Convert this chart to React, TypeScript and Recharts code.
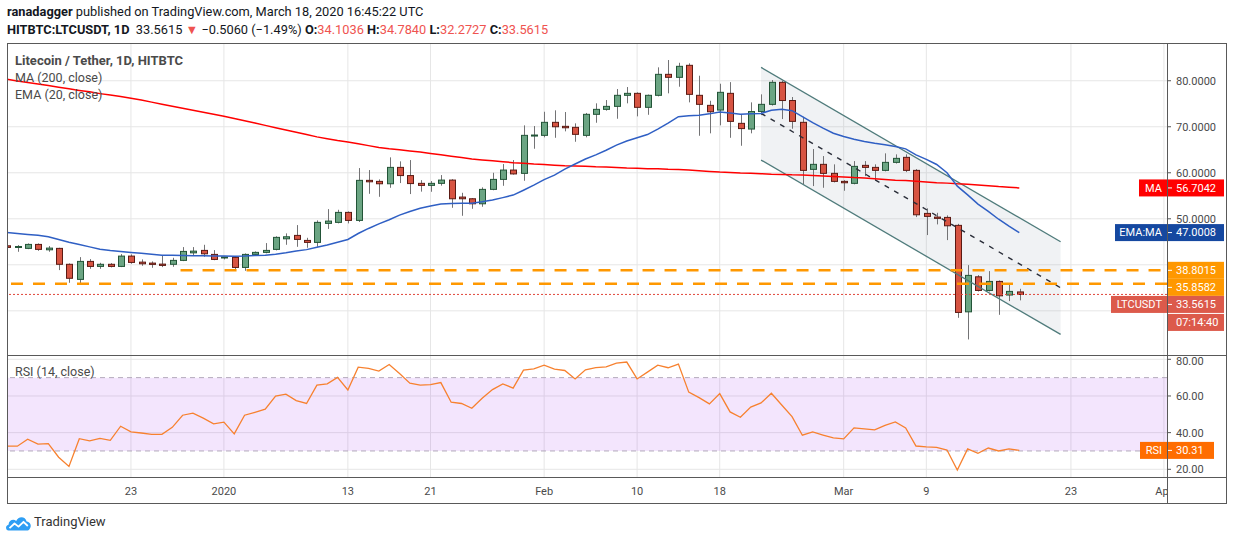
import React from 'react';
import {
  ComposedChart,
  Bar,
  Line,
  Area,
  XAxis,
  YAxis,
  CartesianGrid,
  ReferenceLine,
  ReferenceArea,
} from 'recharts';

// day 0 = Jan 1, 2020; first candle is Dec 11, 2019
const FIRST_DAY = -21;

const opens = [
  44.13, 43.95, 43.57, 44.43, 43.26, 43.57, 40.11, 36.83, 40.74, 39.65, 40.11, 39.65, 41.89, 40.58, 40.37, 40.15, 40.11, 40.96, 42.6, 43.13, 42.26,
  41.55, 41.61, 39.43, 42.26, 42.7, 43.35, 45.65, 46.39, 45.3, 44.87, 49.0, 49.22, 51.39, 49.65, 58.35, 58.13, 57.61, 61.17, 59.39, 57.7, 57.26,
  57.7, 58.41, 54.72, 54.35, 53.26, 56.39, 58.56, 60.59, 59.87, 67.98,
  68.13, 70.96, 70.09, 69.87, 68.13, 72.7, 73.78, 74.43, 76.83, 77.26, 74.22, 76.83, 81.39, 80.74, 83.35, 76.83, 74.65, 73.63, 77.26, 70.74,
  69.5, 73.3, 74.87, 79.65, 75.7, 70.96, 60.74, 61.83, 59.87,
  58.13, 57.7, 61.61, 61.17, 60.52, 62.26, 63.35, 60.52, 51.17, 50.37, 50.3, 48.57, 29.78, 37.39, 34.43, 36.39, 33.43, 34.1036,
];
const highs = [
  44.4, 44.28, 44.65, 44.65, 44.07, 43.7, 40.3, 41.67, 41.24, 40.43, 40.37, 42.33, 42.26, 41.17, 40.74, 42.11, 41.52, 43.85, 43.85, 44.35, 43.2,
  41.74, 41.8, 42.48, 42.91, 44.72, 46.2, 46.83, 48.63, 45.87, 49.65, 52.1, 51.96, 51.6, 61.02, 60.59, 58.56, 63.35, 62.48, 62.76, 58.4, 58.2,
  59.5, 58.6, 55.65, 54.5, 56.83, 60.0, 61.89, 62.76, 70.3, 70.15,
  73.26, 73.57, 73.2, 70.74, 73.0, 75.09, 75.8, 78.2, 78.63, 77.48, 77.0, 82.91, 84.5, 83.9, 83.78, 81.09, 75.65, 79.35, 79.7, 72.76,
  75.3, 77.04, 80.15, 80.0, 76.46, 72.17, 65.15, 63.63, 61.83,
  58.4, 62.54, 62.54, 61.83, 64.22, 64.0, 64.0, 60.8, 52.26, 51.3, 50.74, 48.9, 39.93, 37.76, 38.63, 36.6, 35.74, 34.784,
];
const lows = [
  43.5, 42.83, 43.4, 43.04, 42.83, 38.85, 36.09, 35.74, 39.13, 39.13, 39.43, 39.5, 40.22, 39.78, 39.35, 39.5, 39.57, 40.8, 42.04, 41.74, 41.0,
  41.17, 39.0, 38.7, 41.96, 42.5, 43.13, 44.35, 43.91, 43.7, 43.91, 47.8, 49.0, 49.0, 49.3, 55.43, 54.78, 56.74, 57.76, 55.37, 55.9, 55.87,
  57.2, 52.39, 50.65, 52.17, 52.61, 56.2, 57.17, 59.6, 58.26, 65.22,
  67.7, 67.6, 69.0, 66.74, 67.7, 70.87, 73.5, 71.74, 75.09, 72.26, 72.6, 76.6, 77.26, 78.7, 75.3, 68.04, 68.57, 70.3, 67.6, 65.87,
  68.57, 72.54, 74.6, 71.67, 69.57, 57.54, 57.11, 56.74, 57.9,
  56.09, 57.48, 59.28, 58.41, 60.3, 62.0, 60.15, 50.37, 46.46, 48.78, 45.37, 28.48, 23.78, 34.2, 34.2, 29.13, 32.11, 32.2727,
];
const closes = [
  43.78, 43.98, 44.43, 43.35, 43.63, 40.11, 37.07, 40.74, 39.65, 40.11, 39.65, 41.89, 40.52, 40.22, 40.09, 39.87, 40.96, 42.91, 42.97, 42.39, 41.17,
  41.7, 39.43, 42.26, 42.7, 43.13, 45.96, 46.09, 45.52, 44.87, 49.22, 49.5, 51.39, 49.65, 58.35, 58.04, 57.61, 61.17, 59.39, 57.65, 57.26, 57.7,
  58.41, 54.35, 54.35, 53.26, 56.39, 58.56, 60.59, 59.75, 68.13, 68.2,
  70.96, 70.0, 69.78, 68.35, 72.7, 73.78, 74.43, 76.83, 77.26, 74.22, 76.83, 81.39, 80.74, 83.13, 77.04, 74.87, 73.26, 77.48, 71.17, 69.6,
  73.3, 74.87, 79.65, 75.7, 71.17, 60.52, 61.83, 59.87, 58.13,
  57.83, 61.39, 61.17, 60.52, 62.26, 63.13, 60.52, 50.87, 50.52, 50.09, 48.48, 29.65, 37.7, 34.43, 36.39, 33.26, 34.22, 33.5615,
];
const ma200 = [
  80.3, 79.95, 79.6, 79.3, 78.95, 78.6, 78.25, 77.9, 77.6, 77.2, 76.9, 76.55, 76.2, 75.8, 75.35, 74.9, 74.45, 74.0, 73.6, 73.15, 72.7,
  72.3, 71.8, 71.3, 70.8, 70.3, 69.8, 69.3, 68.8, 68.3, 67.8, 67.4, 67.0, 66.7, 66.3, 65.9, 65.5, 65.2, 65.0, 64.75, 64.5, 64.2,
  63.9, 63.6, 63.3, 63.0, 62.8, 62.6, 62.4, 62.2, 62.05, 61.9,
  61.8, 61.65, 61.5, 61.45, 61.4, 61.3, 61.25, 61.15, 61.05, 61.0, 60.9, 60.85, 60.75, 60.7, 60.6, 60.45, 60.3, 60.15, 60.05, 59.95,
  59.9, 59.8, 59.7, 59.65, 59.55, 59.5, 59.4, 59.3, 59.2,
  59.1, 58.95, 58.85, 58.7, 58.55, 58.4, 58.3, 58.15, 58.0, 57.85, 57.75, 57.6, 57.5, 57.35, 57.2, 57.0, 56.85, 56.7042,
];
const ema20 = [
  47.0, 46.8, 46.6, 46.4, 46.1, 45.5, 44.9, 44.4, 43.9, 43.4, 43.1, 42.9, 42.7, 42.5, 42.3, 42.1, 42.05, 42.0, 41.95, 41.95, 41.9,
  41.9, 41.85, 41.9, 42.0, 42.1, 42.3, 42.6, 43.0, 43.3, 43.8, 44.3, 44.9, 45.5, 46.8, 47.9, 48.9, 49.8, 50.8, 51.6, 52.3, 52.8,
  53.2, 53.3, 53.35, 53.4, 53.7, 54.1, 54.6, 55.15, 56.2, 57.3,
  58.5, 59.5, 60.8, 61.9, 63.0, 63.9, 64.9, 66.0, 66.9, 67.6, 68.3, 69.5, 70.8, 72.2, 72.4, 72.5, 72.8, 73.2, 73.0, 72.7,
  72.8, 72.9, 73.6, 73.8, 73.5, 72.2, 70.9, 69.7, 68.6,
  67.9, 67.3, 66.8, 66.4, 66.1, 65.7, 65.2, 63.9, 62.9, 61.8, 60.0, 57.1, 55.2, 53.2, 51.6, 49.9, 48.4, 47.0008,
];
const rsi14 = [
  32.6, 32.6, 36.4, 33.7, 34.0, 26.6, 21.6, 36.7, 35.5, 36.9, 35.8, 43.5, 40.4, 39.8, 39.1, 39.1, 42.9, 49.5, 50.6, 47.9, 44.8,
  45.7, 39.3, 49.5, 51.1, 52.8, 59.9, 61.0, 57.5, 55.9, 65.9, 66.6, 70.1, 63.3, 75.7, 75.0, 73.6, 77.2, 72.2, 67.0, 65.9, 66.2,
  67.3, 56.6, 55.9, 53.3, 58.8, 63.5, 66.6, 64.3, 74.1, 74.8,
  76.8, 74.6, 73.9, 69.3, 74.3, 75.5, 75.9, 77.9, 78.5, 69.3, 73.0, 76.8, 75.4, 77.4, 62.1, 59.1, 55.7, 61.3, 51.3, 48.4,
  53.9, 56.2, 61.5, 55.1, 48.7, 38.6, 40.4, 38.7, 37.1,
  36.6, 42.6, 42.0, 41.5, 44.0, 45.8, 42.6, 32.7, 32.2, 32.0, 30.5, 19.6, 31.1, 28.7, 31.6, 30.0, 31.1, 30.31,
];

const tickDays = [-9, 0, 12, 20, 31, 40, 48, 60, 68, 82, 91];
const tickLabels = ['23', '2020', '13', '21', 'Feb', '10', '18', 'Mar', '9', '23', 'Apr'];

const priceTicks = [50, 60, 70, 80];
const priceGrid = [30, 40, 50, 60, 70, 80];
const rsiTicks = [20, 40, 60, 80];

const channelDays = [52, 81];
const channelUpper = [82.91, 45.0];
const channelMid = [72.91, 35.0];
const channelLower = [62.76, 24.87];

const resistance = 38.8015;
const support = 35.8582;
const lastPrice = 33.5615;
const lastMa = 56.7042;
const lastEma = 47.0008;
const lastRsi = 30.31;
const countdown = '07:14:40';

const candles = closes.map((close, i) => ({
  day: FIRST_DAY + i,
  open: opens[i],
  high: highs[i],
  low: lows[i],
  close,
  range: [lows[i], highs[i]],
  ma: ma200[i],
  ema: ema20[i],
  rsi: rsi14[i],
}));

const channel = channelDays.map((day, i) => ({ day, band: [channelLower[i], channelUpper[i]] }));

const X_DOMAIN: [number, number] = [-21, 91.3];
const RED = '#ef5350';
const TEXT = '#4a4a4a';

const Candle = (props: any) => {
  const { x, y, width, height, payload } = props;
  if (!payload) return null;
  const { open, close, high, low } = payload;
  const top = Math.min(y, y + height);
  const span = Math.abs(height);
  const k = high > low ? span / (high - low) : 0;
  const py = (v: number) => top + (high - v) * k;
  const cx = Math.round(x + width / 2) + 0.5;
  const up = close >= open;
  const b1 = py(Math.max(open, close));
  const b2 = py(Math.min(open, close));
  return (
    <g>
      <line x1={cx} x2={cx} y1={top} y2={top + span} stroke="#737375" strokeWidth={1} />
      <rect
        x={cx - 3}
        y={b1}
        width={6}
        height={Math.max(b2 - b1, 1)}
        fill={up ? '#6ba583' : '#d75442'}
        stroke={up ? '#225437' : '#5b1a13'}
        strokeWidth={1}
      />
    </g>
  );
};

type TagOpts = { name?: string; nameW?: number; valueW?: number; shift?: number; sub?: string };

const tag = (value: string, bg: string, opts: TagOpts = {}) => (props: any) => {
  const vb = props.viewBox || {};
  const ax = (vb.x || 0) + (vb.width || 0);
  const cy = (vb.y || 0) + (opts.shift || 0);
  const h = 17;
  const vw = opts.valueW || 56;
  return (
    <g>
      {opts.name && <rect x={ax - (opts.nameW || 30)} y={cy - h / 2} width={opts.nameW || 30} height={h} fill={bg} />}
      {opts.name && (
        <text x={ax - 5} y={cy} dy="0.35em" textAnchor="end" fill="#fff" fontSize={11}>
          {opts.name}
        </text>
      )}
      <rect x={ax + 1} y={cy - h / 2} width={vw} height={h} fill={bg} />
      <line x1={ax} x2={ax + 5} y1={cy} y2={cy} stroke="#fff" />
      <text x={ax + 9} y={cy} dy="0.35em" fill="#fff" fontSize={11}>
        {value}
      </text>
      {opts.sub && <rect x={ax + 1} y={cy + h / 2 + 1} width={vw} height={h} fill={bg} />}
      {opts.sub && (
        <text x={ax + 9} y={cy + h + 1} dy="0.35em" fill="#fff" fontSize={11}>
          {opts.sub}
        </text>
      )}
    </g>
  );
};

const DateTick = (props: any) => {
  const { x, y, payload } = props;
  const label = tickLabels[tickDays.indexOf(payload.value)];
  return (
    <g>
      <defs>
        <clipPath id={`tick-clip-${payload.value}`}>
          <rect x={0} y={0} width={1160} height={200} />
        </clipPath>
      </defs>
      <text x={x} y={y} dy="0.71em" textAnchor="middle" fill={TEXT} fontSize={11} clipPath={`url(#tick-clip-${payload.value})`}>
        {label}
      </text>
    </g>
  );
};

const Logo = () => (
  <svg width="27" height="16" viewBox="0 0 27 16" style={{ position: 'absolute', left: 5, top: 515 }}>
    <path
      d="M3.5 15.5 C0.5 15.5 0 10.5 3.5 9.8 C3.8 5.2 8.5 3.5 11.2 6 C13 1 20.5 0.8 21.6 6.6 C25.5 6.8 27 11.5 24.6 14 C24 15 23 15.5 22 15.5 Z"
      fill="#2e9ef4"
    />
    <path d="M4.5 13.2 L9.5 8.5 L13.5 11.6 L18.5 6.8 L22.8 11" stroke="#fff" strokeWidth={1.8} fill="none" strokeLinejoin="round" />
  </svg>
);

export default function App() {
  return (
    <div
      style={{
        position: 'relative',
        width: 1234,
        height: 541,
        background: '#fff',
        overflow: 'hidden',
        fontFamily: 'Roboto, "Liberation Sans", sans-serif',
        color: '#131722',
      }}
    >
      <style>{'body{margin:0}'}</style>

      <div style={{ position: 'absolute', left: 7, top: 4, fontSize: 12.8, whiteSpace: 'nowrap' }}>
        <b>ranadagger</b> published on TradingView.com, March 18, 2020 16:45:22 UTC
      </div>
      <div style={{ position: 'absolute', left: 7, top: 22, fontSize: 12.8, whiteSpace: 'nowrap' }}>
        <b>HITBTC:LTCUSDT, 1D</b>&nbsp; 33.5615 <span style={{ color: RED }}>▼</span> −0.5060 (−1.49%) <b>O:</b>
        <span style={{ color: RED }}>34.1036</span> <b>H:</b>
        <span style={{ color: RED }}>34.7840</span> <b>L:</b>
        <span style={{ color: RED }}>32.2727</span> <b>C:</b>
        <span style={{ color: RED }}>33.5615</span>
      </div>

      <div style={{ position: 'absolute', left: 7, top: 43 }}>
        <ComposedChart width={1220} height={312} data={candles} margin={{ top: 0, right: 0, bottom: 0, left: 0 }}>
          <CartesianGrid stroke="#e6e6e6" horizontalValues={priceGrid} verticalValues={tickDays} />
          <XAxis dataKey="day" type="number" domain={X_DOMAIN} allowDataOverflow ticks={tickDays} hide />
          <YAxis
            orientation="right"
            width={60}
            domain={[20.4, 88.2]}
            allowDataOverflow
            ticks={priceTicks}
            tickFormatter={(v: number) => v.toFixed(4)}
            tick={{ fontSize: 11, fill: TEXT }}
            tickSize={4}
            tickMargin={5}
            tickLine={{ stroke: '#555' }}
            axisLine={false}
          />
          <Area data={channel} dataKey="band" stroke="none" fill="#8e98ad" fillOpacity={0.13} isAnimationActive={false} />
          <ReferenceLine
            segment={[
              { x: channelDays[0], y: channelUpper[0] },
              { x: channelDays[1], y: channelUpper[1] },
            ]}
            stroke="#4f7b7b"
            strokeWidth={1.3}
          />
          <ReferenceLine
            segment={[
              { x: channelDays[0], y: channelLower[0] },
              { x: channelDays[1], y: channelLower[1] },
            ]}
            stroke="#4f7b7b"
            strokeWidth={1.3}
          />
          <ReferenceLine
            segment={[
              { x: channelDays[0], y: channelMid[0] },
              { x: channelDays[1], y: channelMid[1] },
            ]}
            stroke="#2a2e39"
            strokeWidth={1.4}
            strokeDasharray="5 6"
          />
          <ReferenceLine
            segment={[
              { x: -4.2, y: resistance },
              { x: X_DOMAIN[1], y: resistance },
            ]}
            stroke="#ff9800"
            strokeWidth={2.5}
            strokeDasharray="12 10"
          />
          <ReferenceLine y={support} stroke="#ff9800" strokeWidth={2.5} strokeDasharray="12 10" />
          <ReferenceLine y={lastPrice} stroke="#e0463a" strokeWidth={1} strokeDasharray="2 2" />
          <Line dataKey="ma" stroke="#ff0000" strokeWidth={1.5} dot={false} isAnimationActive={false} />
          <Line dataKey="ema" stroke="#2f5fc4" strokeWidth={1.5} dot={false} isAnimationActive={false} />
          <Bar dataKey="range" barSize={7} shape={<Candle />} isAnimationActive={false} />
          <ReferenceLine y={lastMa} stroke="none" label={tag('56.7042', '#ff0000', { name: 'MA', nameW: 28 })} />
          <ReferenceLine y={lastEma} stroke="none" label={tag('47.0008', '#1548a0', { name: 'EMA:MA', nameW: 52 })} />
          <ReferenceLine y={resistance} stroke="none" label={tag('38.8015', '#ff9800')} />
          <ReferenceLine y={support} stroke="none" label={tag('35.8582', '#ff9800', { shift: 3.5 })} />
          <ReferenceLine
            y={lastPrice}
            stroke="none"
            label={tag('33.5615', '#dc5a4b', { name: 'LTCUSDT', nameW: 56, shift: 10, sub: countdown })}
          />
        </ComposedChart>
      </div>

      <div style={{ position: 'absolute', left: 7, top: 355 }}>
        <ComposedChart width={1220} height={149} data={candles} margin={{ top: 0, right: 0, bottom: 0, left: 0 }}>
          <CartesianGrid stroke="#e6e6e6" horizontalValues={rsiTicks} verticalValues={tickDays} />
          <XAxis
            dataKey="day"
            type="number"
            domain={X_DOMAIN}
            allowDataOverflow
            ticks={tickDays}
            height={27}
            tick={<DateTick />}
            tickSize={0}
            tickMargin={10}
            axisLine={false}
            tickLine={false}
          />
          <YAxis
            orientation="right"
            width={60}
            domain={[15.8, 82.35]}
            allowDataOverflow
            ticks={rsiTicks}
            tickFormatter={(v: number) => v.toFixed(2)}
            tick={{ fontSize: 11, fill: TEXT }}
            tickSize={4}
            tickMargin={5}
            tickLine={{ stroke: '#555' }}
            axisLine={false}
          />
          <ReferenceArea y1={30} y2={70} fill="#8b00f0" fillOpacity={0.1} stroke="none" />
          <ReferenceLine y={70} stroke="#b3a9bb" strokeDasharray="5 4" />
          <ReferenceLine y={30} stroke="#b3a9bb" strokeDasharray="5 4" />
          <Line dataKey="rsi" stroke="#f7812f" strokeWidth={1.3} dot={false} isAnimationActive={false} />
          <ReferenceLine y={lastRsi} stroke="none" label={tag('30.31', '#ff6d00', { name: 'RSI', nameW: 27, valueW: 46 })} />
        </ComposedChart>
      </div>

      <div style={{ position: 'absolute', left: 15, top: 52, fontSize: 12.5, color: TEXT, lineHeight: '17px' }}>
        <div style={{ fontWeight: 'bold', fontSize: 13 }}>Litecoin / Tether, 1D, HITBTC</div>
        <div>MA (200, close)</div>
        <div>EMA (20, close)</div>
      </div>
      <div style={{ position: 'absolute', left: 15, top: 364, fontSize: 12.5, color: TEXT }}>RSI (14, close)</div>

      <svg width={1234} height={541} style={{ position: 'absolute', left: 0, top: 0, pointerEvents: 'none' }}>
        <rect x={7.5} y={43.5} width={1219} height={460} fill="none" stroke="#595959" />
        <line x1={7} x2={1227} y1={355.5} y2={355.5} stroke="#595959" />
        <line x1={7} x2={1227} y1={477.5} y2={477.5} stroke="#595959" />
        <line x1={1167.5} x2={1167.5} y1={43} y2={504} stroke="#595959" />
      </svg>

      <Logo />
      <div style={{ position: 'absolute', left: 34, top: 514, fontSize: 13, color: '#333' }}>TradingView</div>
    </div>
  );
}
